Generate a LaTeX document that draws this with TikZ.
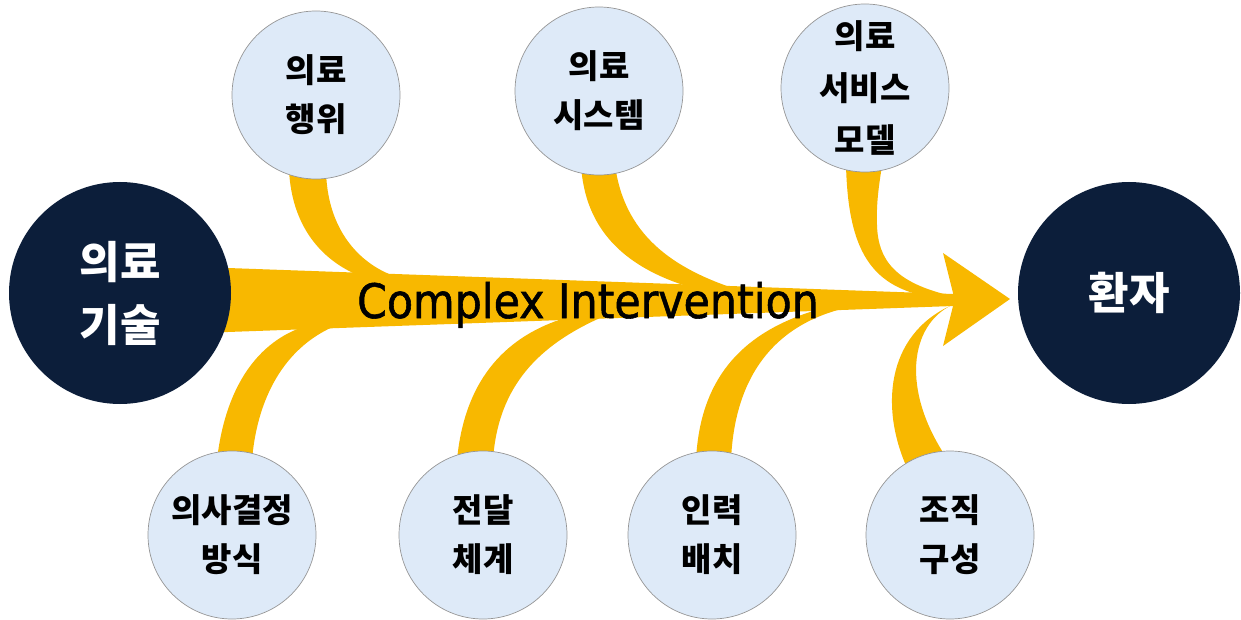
\documentclass[tikz,border=0pt]{standalone}
\usepackage{fontspec}
\setmainfont{Liberation Sans}
\newfontfamily\kr{Noto Sans CJK KR}
\newfontfamily\cifont{DejaVuSansCondensed.ttf}[FakeBold=1.2]
\definecolor{gold}{RGB}{248,184,0}
\definecolor{navy}{RGB}{12,30,58}
\definecolor{pale}{RGB}{222,234,248}
\definecolor{rim}{RGB}{150,150,150}
\tikzset{
  lc/.style={circle, draw=rim, line width=0.7pt, fill=pale, minimum size=168pt, inner sep=0pt,
    align=center, font=\kr\bfseries\fontsize{33}{49}\selectfont, text=black},
  dc/.style={circle, fill=navy, minimum size=222pt, inner sep=0pt,
    align=center, font=\kr\bfseries\fontsize{44}{63}\selectfont, text=white},
  band/.style={fill=gold, draw=none}
}
\begin{document}
\begin{tikzpicture}[x=1pt,y=-1pt]
\useasboundingbox (0,0) rectangle (1241,620);
% main shaft and arrowhead
\fill[band] (200,267) -- (953,294) -- (953,306) -- (200,333) -- cycle;
\fill[band] (943,253) -- (1010,299) -- (943,346) -- (953,306) -- (953,293) -- cycle;
% upper branches
\fill[band] (289,170) .. controls (292,230) and (325,262) .. (360,276) -- (400,280)
  -- (400,278) .. controls (360,266) and (327,230) .. (326,170) -- cycle;
\fill[band] (581,165) .. controls (585,230) and (625,270) .. (700,290) -- (745,294)
  -- (745,292) .. controls (680,272) and (625,240) .. (615,165) -- cycle;
\fill[band] (846,165) .. controls (848,245) and (868,282) .. (920,295) -- (952,299)
  -- (952,296) .. controls (895,283) and (878,260) .. (877,225)
  .. controls (876,200) and (880,180) .. (882,165) -- cycle;
% lower branches
\fill[band] (217,460) .. controls (225,390) and (255,345) .. (300,328) -- (335,324)
  -- (335,326) .. controls (290,345) and (258,390) .. (252,460) -- cycle;
\fill[band] (457,460) .. controls (465,375) and (510,335) .. (565,318) -- (600,316)
  -- (600,318) .. controls (540,345) and (498,385) .. (493,460) -- cycle;
\fill[band] (696,460) .. controls (700,380) and (740,335) .. (810,312) -- (850,305)
  -- (850,307) .. controls (780,322) and (735,370) .. (731,460) -- cycle;
\fill[band] (908,470) .. controls (880,410) and (885,335) .. (952,305)
  .. controls (910,325) and (900,390) .. (948,460) -- cycle;
% nodes
\node[dc] (tech) at (120,293) {의료\\기술};
\node[dc] (pat) at (1129,293) {환자};
\node[lc] (act) at (316,95) {의료\\행위};
\node[lc] (sys) at (599,91) {의료\\시스템};
\node[lc, font=\kr\bfseries\fontsize{33}{52}\selectfont] (svc) at (865,88) {의료\\서비스\\모델};
\node[lc] (dec) at (232,535) {의사결정\\방식};
\node[lc] (del) at (483,535) {전달\\체계};
\node[lc] (man) at (712,535) {인력\\배치};
\node[lc] (org) at (950,535) {조직\\구성};
\node[font=\cifont\fontsize{47.5}{55}\selectfont, anchor=base, inner sep=0pt] (ci) at (588,318) {Complex Intervention};
\end{tikzpicture}
\end{document}
